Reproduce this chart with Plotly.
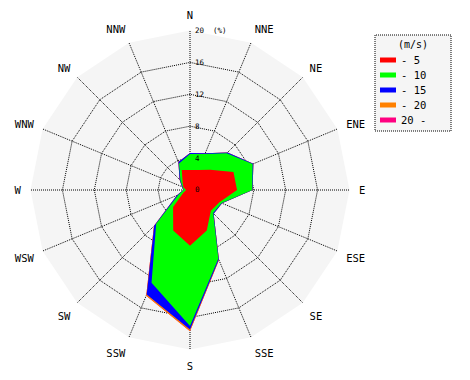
import plotly.graph_objects as go

directions = ["N", "NNE", "NE", "ENE", "E", "ESE", "SE", "SSE",
              "S", "SSW", "SW", "WSW", "W", "WNW", "NW", "NNW"]

# cumulative frequency (%) by wind speed class
cum_5 = [2.5, 2.7, 3.6, 5.9, 5.9, 4.0, 3.7, 5.5, 7.0, 5.5, 3.0, 0.9, 0.5, 0.9, 1.3, 2.7]
cum_10 = [4.5, 4.9, 6.5, 8.5, 7.8, 4.3, 4.1, 9.3, 17.05, 12.6, 6.0, 1.6, 0.8, 1.0, 1.7, 3.6]
cum_15 = [4.65, 5.0, 6.65, 8.6, 7.85, 4.35, 4.2, 9.45, 17.5, 14.2, 6.35, 1.8, 0.85, 1.1, 1.85, 3.8]
cum_20 = [4.65, 5.0, 6.65, 8.6, 7.85, 4.35, 4.2, 9.5, 17.7, 14.35, 6.4, 1.8, 0.85, 1.1, 1.85, 3.8]
cum_over = [4.65, 5.0, 6.65, 8.6, 7.85, 4.35, 4.2, 9.5, 17.7, 14.35, 6.4, 1.8, 0.85, 1.1, 1.85, 3.8]

class_names = ["- 5", "- 10", "- 15", "- 20", "20 -"]
class_colors = ["#FF0000", "#00FF00", "#0000FF", "#FF8000", "#FF0080"]
series = [cum_5, cum_10, cum_15, cum_20, cum_over]
legend_title = "(m/s)"

radial_ticks = [0, 4, 8, 12, 16, 20]
radial_ticktext = ["0", "4", "8", "12", "16", "20\u00a0\u00a0(%)"]

FONT = "DejaVu Sans Mono"

fig = go.Figure()
# draw outermost first so inner classes lie on top
for i in reversed(range(len(series))):
    r = series[i] + [series[i][0]]
    th = directions + [directions[0]]
    fig.add_trace(go.Scatterpolar(
        r=r, theta=th, mode="lines", fill="toself",
        fillcolor=class_colors[i], line=dict(color=class_colors[i], width=0),
        name=class_names[i], showlegend=False, hoverinfo="skip",
    ))

CX, CY, R = 190, 190, 159.5
W, H = 470, 380

# hand-made legend (dotted box, small swatches)
shapes = [dict(type="rect", xref="paper", yref="paper",
               x0=375 / W, x1=451 / W, y0=1 - 131 / H, y1=1 - 35 / H,
               line=dict(color="black", width=1, dash="1px,1px"),
               fillcolor="#F5F5F5", layer="below")]
annotations = [dict(text=legend_title, xref="paper", yref="paper",
                    x=413 / W, y=1 - 44 / H, xanchor="center", yanchor="middle",
                    showarrow=False, font=dict(family=FONT, size=10))]
for k, (nm, col) in enumerate(zip(class_names, class_colors)):
    yc = 60 + 15 * k
    shapes.append(dict(type="rect", xref="paper", yref="paper",
                       x0=380 / W, x1=396 / W, y0=1 - (yc + 2.5) / H, y1=1 - (yc - 2.5) / H,
                       line=dict(width=0), fillcolor=col))
    annotations.append(dict(text=nm, xref="paper", yref="paper",
                            x=399 / W, y=1 - yc / H, xanchor="left", yanchor="middle",
                            showarrow=False, font=dict(family=FONT, size=10.5)))

fig.update_layout(
    width=W, height=H,
    margin=dict(l=0, r=0, t=0, b=0),
    paper_bgcolor="white",
    font=dict(family=FONT, size=10, color="black"),
    showlegend=False,
    polar=dict(
        domain=dict(x=[(CX - R) / W, (CX + R) / W], y=[(H - CY - R) / H, (H - CY + R) / H]),
        bgcolor="#F5F5F5",
        gridshape="linear",
        angularaxis=dict(
            type="category", categoryorder="array", categoryarray=directions,
            rotation=90, direction="clockwise",
            showline=False, ticks="outside", ticklen=7, tickcolor="rgba(0,0,0,0)",
            showgrid=True, gridcolor="black", griddash="1px,1px", gridwidth=1,
            tickfont=dict(family=FONT, size=10.5),
        ),
        radialaxis=dict(
            range=[0, 20.001], angle=90, tickangle=90,
            tickmode="array", tickvals=radial_ticks, ticktext=radial_ticktext,
            showline=False, ticks="outside", ticklen=3, tickcolor="rgba(0,0,0,0)",
            showgrid=True, gridcolor="black", griddash="1px,1px", gridwidth=1,
            tickfont=dict(family=FONT, size=7.5),
        ),
    ),
    shapes=shapes,
    annotations=annotations,
)

fig.write_html("out.html", config={"displayModeBar": False},
               post_script="document.body.style.margin='0';")
